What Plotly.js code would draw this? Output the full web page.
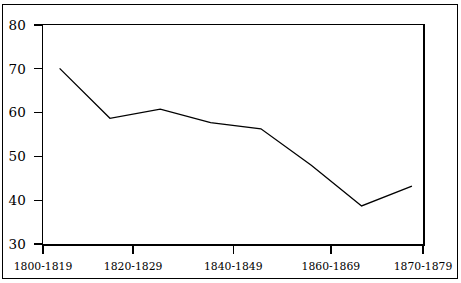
<!DOCTYPE html>
<html>
<head>
<meta charset="utf-8">
<script src="https://cdn.plot.ly/plotly-3.0.1.min.js"></script>
<style>
html, body { margin: 0; padding: 0; background: #fff; }
#frame { position: absolute; left: 2px; top: 4px; width: 454px; height: 273px; border: 1.5px solid #000; }
#chart { position: absolute; left: 0; top: 0; width: 461px; height: 283px; }
</style>
</head>
<body>
<div id="frame"></div>
<div id="chart"></div>
<script>
// Data
const periodIndex = [0, 1, 2, 3, 4, 5, 6, 7];
const values = [70.1, 58.7, 60.8, 57.7, 56.3, 48.0, 38.7, 43.2];
const tickPositions = [-0.33, 1.46, 3.45, 5.39, 7.22];
const tickLabels = ["1800-1819", "1820-1829", "1840-1849", "1860-1869", "1870-1879"];
const yTicks = [30, 40, 50, 60, 70, 80];

const FONT = "DejaVu Serif";

const trace = {
  x: periodIndex,
  y: values,
  type: 'scatter',
  mode: 'lines',
  line: { color: '#000', width: 1.3 },
  hoverinfo: 'skip'
};

const layout = {
  width: 461,
  height: 283,
  margin: { l: 43, r: 38, t: 25, b: 39 },
  paper_bgcolor: 'rgba(0,0,0,0)',
  plot_bgcolor: 'rgba(0,0,0,0)',
  showlegend: false,
  font: { family: FONT, color: '#000' },
  xaxis: {
    range: [-0.33, 7.22],
    tickmode: 'array',
    tickvals: tickPositions,
    ticktext: tickLabels,
    ticks: 'outside',
    ticklen: 8,
    tickwidth: 1.3,
    tickcolor: '#000',
    showgrid: false,
    zeroline: false,
    showline: true,
    linecolor: '#000',
    linewidth: 1.5,
    mirror: true,
    ticklabelstandoff: 4,
    tickfont: { size: 10.8, family: FONT }
  },
  yaxis: {
    range: [30, 80],
    tickmode: 'array',
    tickvals: yTicks,
    ticks: 'outside',
    ticklen: 8,
    tickwidth: 1.3,
    tickcolor: '#000',
    showgrid: false,
    zeroline: false,
    showline: true,
    linecolor: '#000',
    linewidth: 1.5,
    mirror: true,
    ticklabelstandoff: 5,
    tickfont: { size: 13.5, family: FONT }
  }
};

Plotly.newPlot('chart', [trace], layout, { staticPlot: true, displayModeBar: false });
</script>
</body>
</html>
